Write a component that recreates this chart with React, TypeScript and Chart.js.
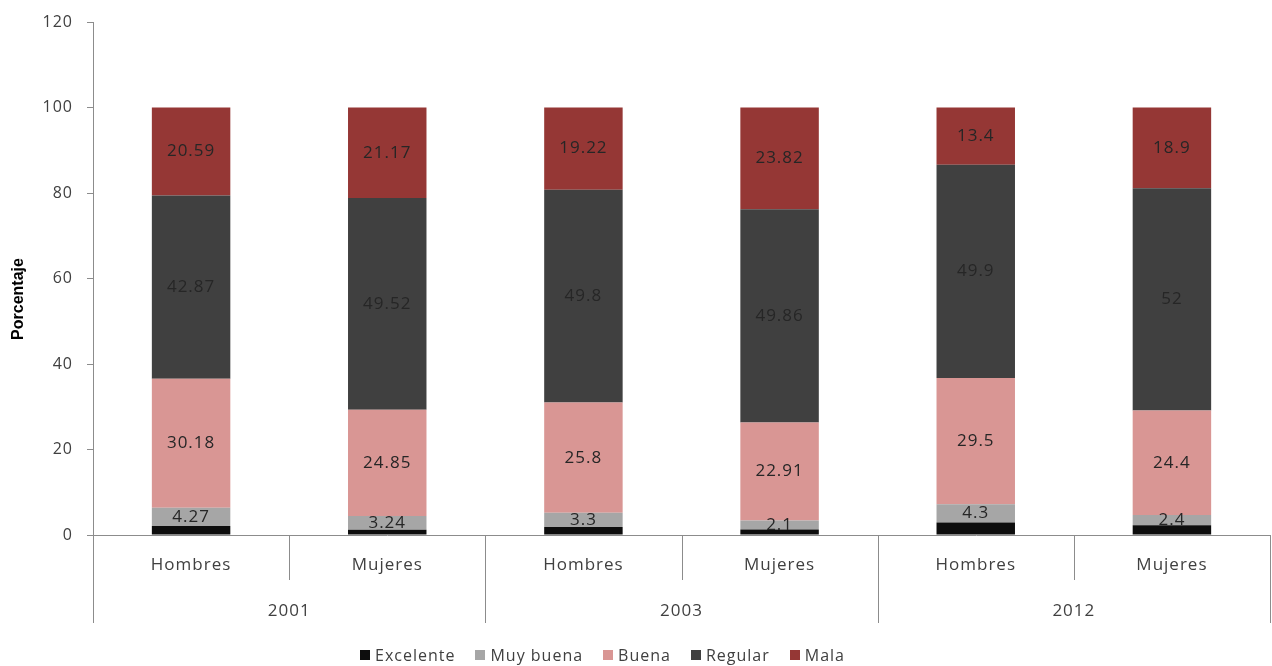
import React, { useEffect, useRef } from "react";
import { Chart, registerables } from "chart.js";

Chart.register(...registerables);

const categories = ["Hombres", "Mujeres", "Hombres", "Mujeres", "Hombres", "Mujeres"];
const years = ["2001", "2003", "2012"];
const excelente = [2.09, 1.22, 1.88, 1.31, 2.9, 2.3];
const muyBuena = [4.27, 3.24, 3.3, 2.1, 4.3, 2.4];
const buena = [30.18, 24.85, 25.8, 22.91, 29.5, 24.4];
const regular = [42.87, 49.52, 49.8, 49.86, 49.9, 52];
const mala = [20.59, 21.17, 19.22, 23.82, 13.4, 18.9];
const seriesNames = ["Excelente", "Muy buena", "Buena", "Regular", "Mala"];
const seriesColors = ["#0d0d0d", "#a6a6a6", "#d99694", "#404040", "#953735"];
const yTitle = "Porcentaje";

const FONT = "'Open Sans', 'Noto Sans', sans-serif";
const LINE = "#8c8c8c";
const TEXT = "#404040";

const spacingPlugin = {
  id: "spacing",
  beforeDraw(chart: any) {
    try { chart.ctx.letterSpacing = "1px"; } catch (e) {}
  },
};

const segLabelPlugin = {
  id: "segLabels",
  afterDatasetsDraw(chart: any) {
    const ctx = chart.ctx;
    ctx.save();
    ctx.font = `17px ${FONT}`;
    ctx.fillStyle = "#262626";
    ctx.textAlign = "center";
    ctx.textBaseline = "middle";
    chart.data.datasets.forEach((ds: any, di: number) => {
      if (di === 0) return;
      const meta = chart.getDatasetMeta(di);
      meta.data.forEach((el: any, j: number) => {
        const v = ds.data[j];
        const cy = (el.y + el.base) / 2;
        ctx.fillText(String(v), el.x, cy);
      });
    });
    ctx.restore();
  },
};

const separatorPlugin = {
  id: "separators",
  afterDraw(chart: any) {
    const { ctx, chartArea } = chart;
    const n = categories.length;
    const w = (chartArea.right - chartArea.left) / n;
    ctx.save();
    ctx.strokeStyle = LINE;
    ctx.lineWidth = 1;
    for (let i = 0; i <= n; i++) {
      const x = Math.round(chartArea.left + i * w) + 0.5;
      const len = i % 2 === 0 ? 88 : 45;
      ctx.beginPath();
      ctx.moveTo(x, chartArea.bottom);
      ctx.lineTo(x, chartArea.bottom + len);
      ctx.stroke();
    }
    // y-axis title
    ctx.translate(19, 299);
    ctx.rotate(-Math.PI / 2);
    ctx.font = `bold 16px 'Liberation Sans Narrow', 'Liberation Sans', sans-serif`;
    ctx.fillStyle = "#000";
    ctx.textAlign = "center";
    ctx.textBaseline = "middle";
    try { ctx.letterSpacing = "0px"; } catch (e) {}
    ctx.fillText(yTitle, 0, 0);
    ctx.restore();
  },
};

export default function App() {
  const ref = useRef<HTMLCanvasElement | null>(null);
  useEffect(() => {
    if (!ref.current) return;
    const sets = [excelente, muyBuena, buena, regular, mala];
    const chart = new Chart(ref.current, {
      type: "bar",
      data: {
        labels: categories,
        datasets: sets.map((d, i) => ({
          label: seriesNames[i],
          data: d,
          backgroundColor: seriesColors[i],
          borderWidth: 0,
          categoryPercentage: 1,
          barPercentage: 0.4,
          xAxisID: "x",
        })),
      },
      options: {
        animation: false,
        responsive: false,
        maintainAspectRatio: false,
        layout: { padding: { top: 12, right: 2, left: 0, bottom: 41 } },
        plugins: {
          tooltip: { enabled: false },
          legend: { display: false },
        },
        scales: {
          x: {
            type: "category",
            stacked: true,
            position: "bottom",
            grid: { display: false, drawTicks: false },
            border: { display: true, color: LINE },
            ticks: { color: TEXT, font: { family: FONT, size: 17 }, padding: 20 },
            afterFit: (s: any) => { s.height = 45; },
          },
          x2: {
            type: "category",
            labels: years,
            position: "bottom",
            offset: true,
            grid: { display: false, drawTicks: false },
            border: { display: false },
            ticks: { color: TEXT, font: { family: FONT, size: 17 }, padding: 21 },
            afterFit: (s: any) => { s.height = 45; },
          },
          y: {
            stacked: true,
            min: 0,
            max: 120,
            ticks: { stepSize: 20, color: TEXT, font: { family: FONT, size: 16, lineHeight: 1 }, padding: 14 },
            grid: { drawOnChartArea: false, drawTicks: true, tickLength: 6, color: LINE },
            border: { display: true, color: LINE },
            afterFit: (s: any) => { s.width = 93; },
          },
        },
      } as any,
      plugins: [spacingPlugin, segLabelPlugin, separatorPlugin],
    });
    return () => chart.destroy();
  }, []);
  return (
    <div style={{ position: "absolute", left: 0, top: 0, width: 1272, height: 666, background: "#fff" }}>
      <canvas ref={ref} width={1272} height={666} style={{ display: "block" }} />
      <div
        style={{
          position: "absolute",
          left: 360,
          top: 644,
          height: 22,
          display: "flex",
          alignItems: "center",
          fontFamily: FONT,
          fontSize: 16,
          letterSpacing: "1px",
          color: TEXT,
          whiteSpace: "nowrap",
        }}
      >
        {seriesNames.map((name, i) => (
          <span key={name} style={{ display: "flex", alignItems: "center", marginRight: 20 }}>
            <span style={{ width: 10, height: 10, background: seriesColors[i], marginRight: 5, display: "inline-block" }} />
            <span>{name}</span>
          </span>
        ))}
      </div>
    </div>
  );
}
